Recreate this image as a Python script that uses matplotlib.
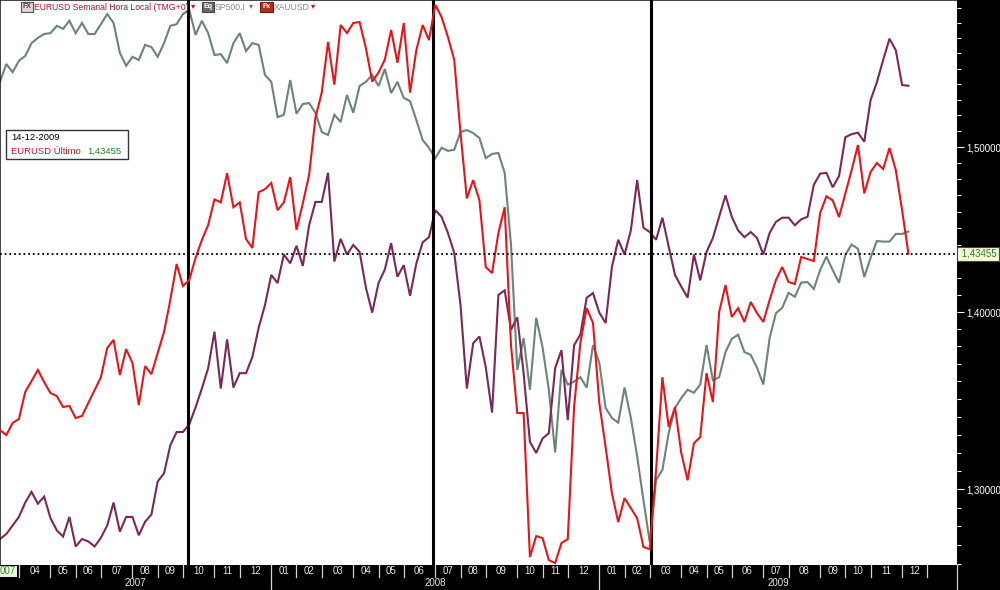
import numpy as np
import pandas as pd
import matplotlib
matplotlib.use("Agg")
import matplotlib.pyplot as plt
import matplotlib.transforms as mtransforms
from matplotlib.ticker import FixedLocator, FuncFormatter, NullFormatter
from matplotlib.lines import Line2D
from matplotlib.patches import Rectangle

plt.rcParams['font.family'] = ['Liberation Sans', 'DejaVu Sans']

# ---------------- data (weekly bars) ----------------
start_date = '2007-03-12'
end_date = '2009-12-14'
dates = pd.date_range(start_date, end_date, freq='7D')

eurusd = [1.3326, 1.3298, 1.3365, 1.3388, 1.3540, 1.3602, 1.3665, 1.3596, 1.3534, 1.3517,
          1.3455, 1.3461, 1.3393, 1.3405, 1.3478, 1.3551, 1.3624, 1.3791, 1.3838, 1.3636,
          1.3785, 1.3705, 1.3466, 1.3687, 1.3641, 1.3762, 1.3884, 1.4071, 1.4284, 1.4153,
          1.4189, 1.4320, 1.4428, 1.4519, 1.4675, 1.4657, 1.4837, 1.4627, 1.4657, 1.4434,
          1.4380, 1.4719, 1.4738, 1.4776, 1.4609, 1.4657, 1.4813, 1.4489, 1.4651, 1.4826,
          1.5185, 1.5345, 1.5673, 1.5396, 1.5785, 1.5732, 1.5798, 1.5805, 1.5634, 1.5416,
          1.5474, 1.5558, 1.5752, 1.5538, 1.5798, 1.5345, 1.5621, 1.5785, 1.5686, 1.5918,
          1.5838, 1.5706, 1.5558, 1.5088, 1.4681, 1.4794, 1.4669, 1.4266, 1.4230, 1.4470,
          1.4627, 1.3809, 1.3421, 1.3421, 1.2637, 1.2748, 1.2738, 1.2621, 1.2605, 1.2711,
          1.2732, 1.3455, 1.3820, 1.4023, 1.3936, 1.3478, 1.3231, 1.2979, 1.2823, 1.2952,
          1.2898, 1.2844, 1.2690, 1.2679, 1.3105, 1.3624, 1.3343, 1.3455, 1.3198, 1.3049,
          1.3253, 1.3287, 1.3647, 1.3483, 1.4000, 1.4159, 1.3971, 1.4023, 1.3942, 1.4059,
          1.3994, 1.3942, 1.4071, 1.4189, 1.4266, 1.4177, 1.4165, 1.4326, 1.4314, 1.4302,
          1.4591, 1.4694, 1.4669, 1.4567, 1.4712, 1.4856, 1.5013, 1.4712, 1.4844, 1.4900,
          1.4863, 1.4994, 1.4856, 1.4609, 1.43455]

sp500 = [1396, 1435, 1417, 1442, 1453, 1482, 1494, 1503, 1505, 1522,
         1515, 1534, 1505, 1529, 1503, 1503, 1526, 1550, 1529, 1460,
         1431, 1451, 1444, 1478, 1473, 1451, 1482, 1522, 1526, 1550,
         1560, 1501, 1534, 1505, 1455, 1457, 1437, 1482, 1505, 1464,
         1482, 1478, 1411, 1396, 1322, 1327, 1400, 1329, 1349, 1351,
         1331, 1292, 1286, 1327, 1312, 1368, 1331, 1387, 1396, 1411,
         1387, 1424, 1372, 1396, 1362, 1355, 1316, 1276, 1261, 1241,
         1261, 1255, 1257, 1292, 1296, 1290, 1280, 1241, 1249, 1251,
         1213, 1086, 895, 940, 868, 970, 927, 868, 788, 895,
         875, 879, 885, 871, 930, 905, 844, 831, 825, 871,
         831, 783, 732, 686, 755, 767, 812, 844, 857, 868,
         864, 875, 930, 881, 885, 920, 939, 945, 920, 916,
         898, 875, 940, 977, 985, 1008, 1002, 1024, 1025, 1014,
         1044, 1066, 1044, 1024, 1069, 1086, 1079, 1033, 1064, 1092,
         1091, 1091, 1104, 1104, 1108]

xauusd = [655, 659, 666, 673, 685, 694, 684, 690, 672, 662,
          657, 673, 649, 655, 653, 649, 656, 666, 685, 661,
          673, 673, 658, 669, 675, 703, 710, 735, 747, 747,
          754, 770, 788, 808, 845, 788, 837, 789, 803, 803,
          819, 849, 873, 906, 897, 929, 919, 939, 916, 963,
          991, 991, 1027, 921, 947, 929, 940, 932, 892, 865,
          897, 912, 942, 904, 917, 883, 919, 943, 949, 981,
          973, 954, 931, 873, 788, 833, 840, 809, 765, 884,
          889, 847, 860, 803, 738, 728, 741, 746, 808, 826,
          758, 831, 842, 881, 886, 865, 854, 915, 946, 929,
          957, 1018, 960, 955, 946, 972, 938, 906, 893, 881,
          929, 900, 932, 948, 973, 999, 973, 957, 949, 955,
          948, 929, 954, 967, 972, 972, 963, 970, 973, 1012,
          1026, 1027, 1009, 1023, 1073, 1077, 1079, 1067, 1123, 1148,
          1180, 1211, 1194, 1144, 1143]

last_value = 1.43455
last_date_label = '14-12-2009'
vline_dates = ['2007-10-07', '2008-07-04', '2009-03-03']
price_ticks = [1.30, 1.40, 1.50]
year_labels = ['2007', '2008', '2009']
legend_labels = ['EURUSD Semanal Hora Local (TMG+0)', 'SP500.I', 'XAUUSD']

# ---------------- helpers ----------------
W, H = 1000, 590
def fx(px):
    return px / W
def fy(py):
    return 1 - py / H

t0 = pd.Timestamp(start_date)
def week_pos(d):
    return (pd.Timestamp(d) - t0).days / 7.0

xw = np.array([week_pos(d) for d in dates])

RED = '#e8141c'
SPC = '#6b8576'
AUC = '#7b2858'
ZF = 40  # z-order for figure-level overlays

fig = plt.figure(figsize=(10, 5.9), dpi=100, facecolor='black')
ax = fig.add_axes([0, fy(565), fx(957), 565 / H])
ax_sp = ax.twinx()
ax_au = ax.twinx()
ax_sp.set_zorder(1)
ax_au.set_zorder(2)
ax.set_zorder(3)
ax.patch.set_visible(False)
ax_sp.patch.set_visible(True)
ax_sp.patch.set_facecolor('white')

xmax = 151.7
for a in (ax, ax_sp, ax_au):
    a.set_xlim(0, xmax)
    a.set_yscale('log')

ax.set_ylim(1.2595, 1.5951)
ax_sp.set_ylim(662.3, 1584)
ax_au.set_ylim(634.4, 1270)

LW = 1.5
ax_sp.plot(xw, sp500, color=SPC, lw=LW, solid_joinstyle='miter')
ax_au.plot(xw, xauusd, color=AUC, lw=LW, solid_joinstyle='miter')
ax.plot(xw, eurusd, color=RED, lw=LW, solid_joinstyle='miter', zorder=4)

for a in (ax_sp, ax_au):
    a.yaxis.set_visible(False)
    a.xaxis.set_visible(False)
    for s in a.spines.values():
        s.set_visible(False)

for d in vline_dates:
    ax.axvline(week_pos(d), color='black', lw=2.2, zorder=3)

ax.axhline(last_value, color='black', lw=1.3, ls=(0, (1, 1.6)), zorder=5)

# right price axis
ax.yaxis.tick_right()
ax.yaxis.set_major_locator(FixedLocator(price_ticks))
ax.yaxis.set_minor_locator(FixedLocator(np.round(np.arange(1.26, 1.60, 0.01), 2)))
ax.yaxis.set_major_formatter(FuncFormatter(lambda v, p: f"{v:.5f}".replace('.', ',')))
ax.yaxis.set_minor_formatter(NullFormatter())
ax.tick_params(axis='y', which='major', colors='white', direction='out', length=5,
               width=0.8, labelsize=7, pad=2)
ax.tick_params(axis='y', which='minor', colors='white', direction='out', length=3, width=0.8)
ax.tick_params(axis='x', which='both', bottom=False, labelbottom=False)
for side in ('left', 'top'):
    ax.spines[side].set_color('#222222')
    ax.spines[side].set_linewidth(1.2)
for side in ('right', 'bottom'):
    ax.spines[side].set_visible(False)

# last value label
tr_lab = mtransforms.blended_transform_factory(ax.transAxes, ax.transData)
ax.text(1.002, last_value, ' ' + f"{last_value:.5f}".replace('.', ','),
        transform=tr_lab, ha='left', va='center', fontsize=7, color='#2e7d32',
        bbox=dict(boxstyle='square,pad=0.22', fc='#f4fad6', ec='#444444', lw=0.8),
        clip_on=False, zorder=10)

# ---------------- top legend ----------------
ly = fy(7)
LFS = 6.2
def icon(x0, x1, face, edge, txt, tcol):
    fig.add_artist(Rectangle((fx(x0), fy(12)), fx(x1 - x0), 10 / H, transform=fig.transFigure,
                             fc=face, ec=edge, lw=0.8, zorder=ZF))
    fig.text(fx((x0 + x1) / 2), ly, txt, ha='center', va='center', fontsize=5,
             color=tcol, fontweight='bold', zorder=ZF + 1)

icon(21, 33, '#d8d8d8', '#555555', 'FX', '#a01830')
fig.text(fx(33.5), ly, legend_labels[0], ha='left', va='center', fontsize=LFS,
         color='#b0182c', zorder=ZF + 1)
fig.text(fx(193), ly, '\u25be', ha='center', va='center', fontsize=6, color='#c01020',
         zorder=ZF + 1)
icon(202, 214, '#6a6a6a', '#444444', 'Eq', 'white')
fig.text(fx(214.5), ly, legend_labels[1], ha='left', va='center', fontsize=LFS,
         color='#8c8c8c', zorder=ZF + 1)
fig.text(fx(251), ly, '\u25be', ha='center', va='center', fontsize=6, color='#777777',
         zorder=ZF + 1)
icon(260, 273, '#b03020', '#6a1a10', 'Fx', 'white')
fig.text(fx(273.5), ly, legend_labels[2], ha='left', va='center', fontsize=LFS,
         color='#8c8c8c', zorder=ZF + 1)
fig.text(fx(313), ly, '\u25be', ha='center', va='center', fontsize=6, color='#c01020',
         zorder=ZF + 1)

# ---------------- info box ----------------
fig.add_artist(Rectangle((fx(6), fy(159)), fx(122), 29 / H, transform=fig.transFigure,
                         fc='white', ec='#333333', lw=1.0, zorder=ZF))
fig.text(fx(11), fy(137), last_date_label, ha='left', va='center', fontsize=6.8,
         color='black', zorder=ZF + 1)
fig.text(fx(11), fy(151), 'EURUSD Último', ha='left', va='center', fontsize=6.8,
         color='#c0182a', zorder=ZF + 1)
fig.text(fx(121), fy(151), f"{last_value:.5f}".replace('.', ','), ha='right', va='center',
         fontsize=6.8, color='#2e7d32', zorder=ZF + 1)

# ---------------- bottom time axis ----------------
T = mtransforms.blended_transform_factory(ax.transData, fig.transFigure)
cal = pd.date_range(start_date, periods=170, freq='7D')
months = pd.period_range('2007-04', '2010-01', freq='M')
month_pos = []
for m in months:
    first = np.argmax(cal >= m.start_time)
    month_pos.append(week_pos(cal[first]))
month_labels = [m.strftime('%m') for m in months]

row_top, row_mid, row_bot = fy(565), fy(577), fy(590)
bounds = month_pos + [xmax]
for i, m in enumerate(months):
    x0, x1 = bounds[i], bounds[i + 1]
    fig.add_artist(Line2D([x0, x0], [row_top, row_mid], transform=T, color='#cfcfcf', lw=0.9))
    if m.year <= 2009:
        fig.text((x0 + x1) / 2, fy(571.5), month_labels[i], transform=T, ha='center',
                 va='center', fontsize=7, color='#e6e6e6')
fig.add_artist(Line2D([xmax, xmax], [row_top, row_bot], transform=T, color='#cfcfcf', lw=0.9))

# first (partial) cell with highlighted date
fig.add_artist(Rectangle((0, fy(577)), fx(17), 11 / H, transform=fig.transFigure,
                         fc='#eef6dc', ec='none'))
fig.text(fx(16), fy(571.5), '007', ha='right', va='center', fontsize=7, color='#3c8a3c')

year_starts = [0.0] + [month_pos[list(months).index(pd.Period(f'{y}-01', 'M'))]
                       for y in (2008, 2009)] + [xmax]
for i, y in enumerate(year_labels):
    x0, x1 = year_starts[i], year_starts[i + 1]
    if i > 0:
        fig.add_artist(Line2D([x0, x0], [row_mid, row_bot], transform=T, color='#cfcfcf', lw=0.9))
    fig.text((x0 + x1) / 2, fy(583.5), y, transform=T, ha='center', va='center',
             fontsize=7, color='#e6e6e6')

fig.savefig('out.png', dpi=100, facecolor='black')
